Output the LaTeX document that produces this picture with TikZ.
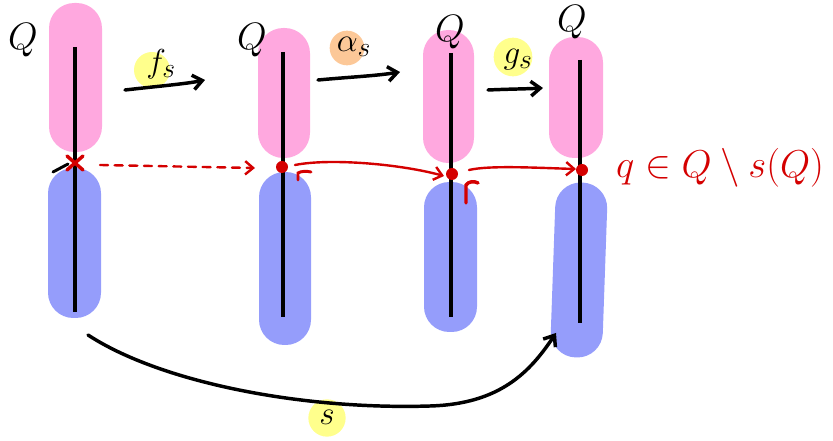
\documentclass[tikz,border=0pt]{standalone}
\usepackage{graphicx}
\usetikzlibrary{arrows.meta}
\definecolor{pinkc}{HTML}{FFA8DF}
\definecolor{bluec}{HTML}{959DFB}
\definecolor{yell}{HTML}{FFFF8C}
\definecolor{orng}{HTML}{FCC898}
\definecolor{redc}{HTML}{D40000}
\newcommand{\bigQ}{\scalebox{1.15}{$Q$}}
\tikzset{
  capsule/.style={rectangle, rounded corners=19pt, inner sep=0pt, draw=none},
  pinkcap/.style={capsule, fill=pinkc},
  bluecap/.style={capsule, fill=bluec},
  axisline/.style={line width=2.5pt, black},
  qlabel/.style={font=\Huge, inner sep=0pt},
  maplabel/.style={font=\Huge, inner sep=0pt},
  blob/.style={circle, inner sep=0pt, draw=none},
  maparrow/.style={line width=2.6pt, line cap=round, -{Straight Barb[length=7pt,width=11pt,line width=2.6pt]}},
  redarrow/.style={redc, line width=1.8pt, line cap=round, -{Straight Barb[length=6pt,width=10pt,line width=1.8pt]}},
  reddot/.style={circle, fill=redc, inner sep=0pt, minimum size=9pt},
}
\begin{document}
\begin{tikzpicture}[x=0.75pt,y=-0.75pt]
\useasboundingbox (0,0) rectangle (833,441);

% capsules
\node[pinkcap, minimum width=39.75pt, minimum height=111.75pt] (p1) at (75.5,77.5) {};
\node[bluecap, minimum width=39.75pt, minimum height=112.5pt] (u1) at (74.5,243) {};
\node[pinkcap, minimum width=39pt, minimum height=97.5pt] (p2) at (284,93) {};
\node[bluecap, minimum width=39pt, minimum height=129.75pt] (u2) at (285,258.5) {};
\node[pinkcap, minimum width=38.25pt, minimum height=99.75pt] (p3) at (448.5,96.5) {};
\node[bluecap, minimum width=39.75pt, minimum height=112.5pt] (u3) at (450.5,257) {};
\node[pinkcap, minimum width=40.5pt, minimum height=90.75pt] (p4) at (576,97.5) {};
\node[bluecap, minimum width=39pt, minimum height=131.25pt, rotate=-2] (u4) at (579,270) {};

% vertical lines
\coordinate (t1) at (75,47);  \coordinate (b1) at (75,312);
\coordinate (t2) at (283,52); \coordinate (b2) at (283,317);
\coordinate (t3) at (451,53); \coordinate (b3) at (451,317);
\coordinate (t4) at (580,60); \coordinate (b4) at (580,323);
\draw[axisline] (t1) -- (b1);
\draw[axisline] (t2) -- (b2);
\draw[axisline] (t3) -- (b3);
\draw[axisline] (t4) -- (b4);

% Q labels
\node[qlabel] (q1) at (23,40) {\bigQ};
\node[qlabel] (q2) at (252,40) {\bigQ};
\node[qlabel] (q3) at (450,32) {\bigQ};
\node[qlabel] (q4) at (572,22) {\bigQ};

% map labels
\node[blob, fill=yell, minimum size=27pt] (cf) at (152,70) {};
\node[maplabel] (lf) at (161,64) {$f_s$};
\node[blob, fill=orng, minimum size=26pt] (ca) at (347,48) {};
\node[maplabel] (la) at (354,47) {$\alpha_s$};
\node[blob, fill=yell, minimum size=29pt] (cg) at (513,57) {};
\node[maplabel] (lg) at (518,60) {$g_s$};
\node[blob, fill=yell, minimum size=28pt] (cs) at (327,418) {};
\node[maplabel] (ls) at (327,417) {$s$};

% map arrows
\coordinate (f0) at (125,90); \coordinate (f1) at (205,80);
\coordinate (a0) at (318,80); \coordinate (a1) at (400,72);
\coordinate (g0) at (488,90); \coordinate (g1) at (543,88);
\draw[maparrow] (f0) .. controls (160,86) and (185,84) .. (f1);
\draw[maparrow] (a0) .. controls (350,77) and (375,76) .. (a1);
\draw[maparrow] (g0) .. controls (510,89) and (525,89) .. (g1);

% s arrow
\coordinate (s0) at (88,335); \coordinate (sm) at (430,406); \coordinate (s1) at (556,333);
\draw[maparrow] (s0) .. controls (160,382) and (300,410) .. (sm) .. controls (500,404) and (530,372) .. (s1);

% red marks
\draw[line width=2.2pt, line cap=round] (53,172) -- (68,164);
\coordinate (x1) at (75,163);
\draw[redc, line width=2.6pt, line cap=round] ([shift={(-8,-7)}]x1) -- ([shift={(8,7)}]x1);
\draw[redc, line width=2.6pt, line cap=round] ([shift={(-8,7)}]x1) -- ([shift={(8,-7)}]x1);
\node[reddot] (d2) at (282,167) {};
\node[reddot] (d3) at (452,174) {};
\node[reddot] (d4) at (582,170) {};

\coordinate (r0) at (100,165); \coordinate (r1) at (255,168);
\draw[redarrow, dash pattern=on 6pt off 5pt] (r0) -- (r1);
\coordinate (e2) at (295,165); \coordinate (e3) at (444,176);
\draw[redarrow] (e2) .. controls (330,158) and (400,164) .. (e3);
\coordinate (e4) at (469,170); \coordinate (e5) at (576,169);
\draw[redarrow] (e4) .. controls (490,165) and (540,168) .. (e5);

% hooks
\draw[redc, line width=2.2pt, line cap=round] (298,180) -- (298,173) .. controls (301,171) and (307,171) .. (311,172);
\draw[redc, line width=2.6pt, line cap=round] (466,203) -- (466,185) .. controls (469,181) and (474,181) .. (478,183);

% red text
\node[redc, font=\Huge, inner sep=0pt] (qt) at (720,168) {\scalebox{1.17}{$q\in Q\setminus s(Q)$}};
\end{tikzpicture}
\end{document}
